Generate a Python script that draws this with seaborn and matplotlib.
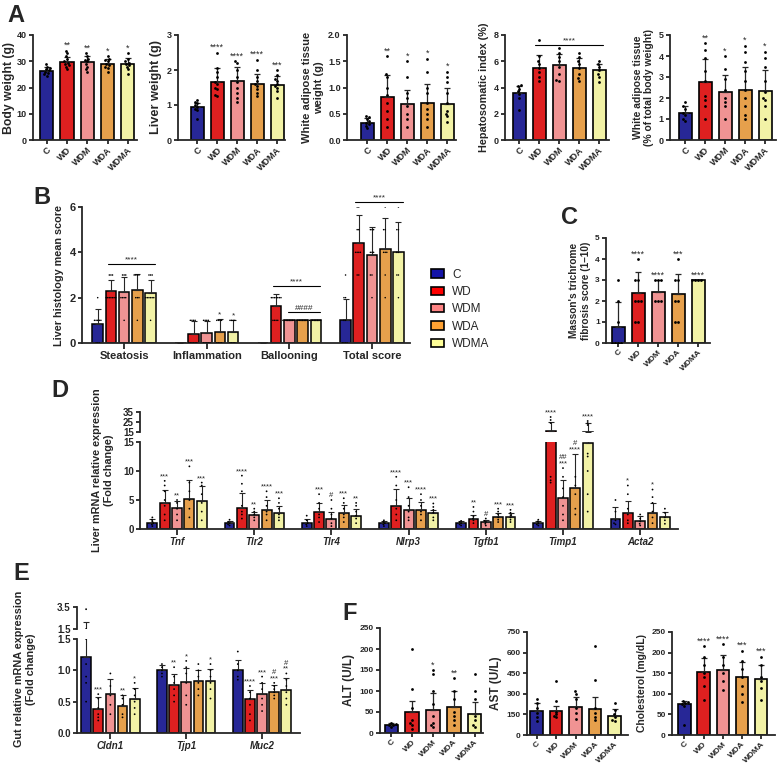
import warnings
import numpy as np
import pandas as pd
import seaborn as sns
import matplotlib.pyplot as plt
from matplotlib.patches import Patch

warnings.filterwarnings("ignore")

groups = ['C', 'WD', 'WDM', 'WDA', 'WDMA']
colors = ['#1414A8', '#FF0000', '#FF8484', '#FFA233', '#FFFF99']
nan = np.nan

# ---- panel A ----
bw_mean = [26.3, 29.6, 29.6, 29.0, 29.0]
bw_sd = [1.5, 2.0, 2.5, 2.0, 2.2]
bw_pts = [[24.5, 25.5, 26, 26.5, 27, 27.5, 28, 29, 25],
          [27, 28, 29, 29.5, 30, 31, 32, 33, 34, 28.5],
          [26, 27, 29, 30, 31, 32, 33, 28, 30.5],
          [26, 27.5, 28.5, 29, 30, 30.5, 31, 32, 28],
          [25, 27, 28, 29, 29.5, 30, 31, 33, 28.5]]
bw_stars = ['', '**', '**', '*', '*']

lw_mean = [0.95, 1.65, 1.7, 1.6, 1.57]
lw_sd = [0.12, 0.4, 0.38, 0.28, 0.25]
lw_pts = [[0.6, 0.85, 0.9, 0.95, 1.0, 1.05, 1.1, 1.15],
          [1.25, 1.3, 1.45, 1.6, 1.65, 1.8, 1.95, 2.05, 2.5, 1.5],
          [1.1, 1.2, 1.35, 1.65, 1.8, 2.0, 2.2, 2.25, 1.5],
          [1.25, 1.35, 1.45, 1.55, 1.6, 1.7, 1.8, 2.0, 2.3],
          [1.2, 1.4, 1.5, 1.55, 1.6, 1.7, 1.75, 1.85, 2.0]]
lw_stars = ['', '****', '****', '****', '***']

wat_mean = [0.33, 0.82, 0.68, 0.70, 0.68]
wat_sd = [0.08, 0.42, 0.28, 0.36, 0.32]
wat_pts = [[0.22, 0.27, 0.3, 0.33, 0.36, 0.4, 0.44, 0.46],
           [0.25, 0.4, 0.55, 0.7, 0.85, 1.0, 1.2, 1.25, 1.6],
           [0.25, 0.4, 0.5, 0.65, 0.8, 0.9, 1.2, 1.5],
           [0.25, 0.4, 0.5, 0.6, 0.7, 0.9, 1.0, 1.3, 1.55],
           [0.35, 0.45, 0.5, 0.55, 0.7, 0.9, 1.1, 1.2, 1.3]]
wat_stars = ['', '**', '*', '*', '*']

hsi_mean = [3.6, 5.5, 5.7, 5.5, 5.35]
hsi_sd = [0.5, 0.95, 0.85, 0.75, 0.45]
hsi_pts = [[2.3, 3.2, 3.5, 3.7, 3.9, 4.1, 4.2],
           [4.5, 4.8, 5.2, 5.5, 5.8, 6.0, 6.4, 7.6],
           [4.5, 4.6, 5.0, 5.6, 6.0, 6.3, 6.6, 7.0],
           [4.5, 4.7, 5.0, 5.5, 5.8, 6.0, 6.3, 6.6],
           [4.4, 4.8, 5.0, 5.3, 5.6, 5.8, 6.0]]
hsi_stars = ['', '', '', '', '']

watp_mean = [1.27, 2.75, 2.3, 2.38, 2.35]
watp_sd = [0.35, 1.1, 0.8, 1.1, 1.0]
watp_pts = [[0.9, 1.0, 1.2, 1.3, 1.5, 1.6, 1.8],
            [1.0, 1.6, 1.9, 2.1, 2.8, 3.3, 3.9, 4.3, 4.6],
            [1.0, 1.6, 1.8, 2.0, 2.4, 2.9, 3.4, 4.0],
            [1.0, 1.2, 1.6, 2.0, 2.4, 2.8, 3.3, 3.7, 4.2, 4.5],
            [1.0, 1.6, 1.9, 2.0, 2.3, 2.8, 3.5, 3.9, 4.2]]
watp_stars = ['', '**', '*', '*', '*']

# ---- panel B ----
b_cats = ['Steatosis', 'Inflammation', 'Ballooning', 'Total score']
b_mean = [[0.85, 2.3, 2.25, 2.35, 2.2],
          [0.0, 0.4, 0.45, 0.5, 0.48],
          [0.0, 1.65, 1.0, 1.0, 1.0],
          [1.0, 4.4, 3.9, 4.15, 4.0]]
b_sd = [[0.65, 0.5, 0.65, 0.7, 0.6],
        [nan, 0.55, 0.53, 0.55, 0.52],
        [nan, 0.5, 0.0, 0.0, 0.0],
        [0.93, 1.25, 1.22, 1.35, 1.33]]
b_pts = [[[0, 0, 0, 1, 1, 1, 1, 1, 2], [2, 2, 2, 2, 2, 3, 3, 3, 2, 2],
          [1, 2, 2, 2, 2, 3, 3, 3], [1, 2, 2, 2, 3, 3, 3, 3], [1, 2, 2, 2, 2, 3, 3, 3, 2, 2]],
         [[], [0, 0, 0, 1, 1, 0, 0, 1, 1, 0], [0, 0, 0, 1, 1, 1, 0, 1, 0],
          [0, 1, 0, 1, 0, 1, 0, 1], [0, 1, 0, 1, 1, 0, 0, 1]],
         [[], [1, 1, 1, 2, 2, 2, 2, 2, 1, 2, 2], [1] * 8, [1] * 8, [1] * 8],
         [[0, 0, 0, 0, 1, 1, 2, 3, 2], [3, 3, 4, 4, 4, 5, 5, 6, 6, 4],
          [2, 3, 3, 4, 4, 4, 5, 5, 5], [2, 3, 4, 4, 4, 5, 5, 6], [2, 3, 3, 4, 4, 5, 5, 6]]]
b_stars = [['', '', '', '', ''], ['', '', '', '*', '*'], ['', '', '', '', ''], ['', '', '', '', '']]

# ---- panel C ----
c_mean = [0.75, 2.4, 2.45, 2.35, 3.0]
c_sd = [1.18, 1.0, 0.55, 0.95, 0.0]
c_pts = [[0, 0, 0, 0, 1, 2, 3], [1, 1, 2, 2, 2, 3, 3, 4], [2, 2, 2, 3, 3, 3],
         [1, 1, 2, 2, 3, 3, 4], [3, 3, 3, 3]]
c_stars = ['', '****', '****', '***', '****']

# ---- panel D ----
d_genes = ['Tnf', 'Tlr2', 'Tlr4', 'Nlrp3', 'Tgfb1', 'Timp1', 'Acta2']
d_mean = [[1.1, 4.4, 3.6, 5.2, 4.8], [1.0, 3.6, 2.4, 3.3, 2.8], [1.1, 2.9, 1.8, 2.7, 2.3],
          [1.0, 3.9, 3.2, 3.3, 2.8], [1.0, 1.8, 1.2, 2.0, 2.0], [1.0, 15.6, 5.4, 7.1, 14.8],
          [1.8, 2.7, 1.4, 2.8, 2.0]]
d_sd = [[0.7, 2.4, 1.3, 3.3, 2.6], [0.4, 2.6, 0.6, 1.7, 1.2], [0.7, 1.6, 1.2, 1.5, 1.1],
        [0.4, 3.0, 2.2, 1.3, 0.5], [0.4, 0.6, 0.4, 0.8, 0.7], [0.4, 9.0, 3.0, 5.9, 9.5],
        [2.0, 2.1, 0.9, 1.7, 0.9]]
d_pts = [[[0.5, 0.8, 1.0, 1.3, 1.6, 2.0], [1.5, 2.5, 4.0, 5.0, 6.5, 7.5, 8.3], [1.5, 2.5, 3.5, 4.5, 5.0],
          [2.0, 3.5, 5.0, 6.5, 8.0, 10.8], [1.5, 3.0, 4.5, 6.0, 7.5, 8.0]],
         [[0.6, 0.8, 1.0, 1.2, 1.6], [1.8, 2.5, 3.0, 4.0, 6.5, 7.8, 9.2], [1.5, 2.0, 2.5, 3.0, 3.5],
          [1.5, 2.5, 3.0, 4.0, 5.5, 6.5], [1.5, 2.0, 2.5, 3.5, 4.5, 5.3]],
         [[0.5, 0.8, 1.0, 1.5, 2.3], [1.2, 2.0, 2.5, 3.5, 4.5, 6.0], [0.5, 1.0, 1.8, 2.5, 3.5, 5.0],
          [1.2, 2.0, 2.5, 3.5, 4.5, 5.3], [1.0, 1.8, 2.3, 3.0, 4.0, 4.5]],
         [[0.5, 0.8, 1.0, 1.2, 1.5], [1.5, 2.5, 3.5, 5.0, 7.5, 9.0], [1.5, 2.0, 3.0, 4.0, 5.5, 7.2],
          [1.5, 2.5, 3.0, 4.0, 5.0, 6.0], [1.5, 2.0, 2.8, 3.3, 3.8, 4.4]],
         [[0.6, 0.8, 1.0, 1.2, 1.4], [1.0, 1.5, 1.8, 2.2, 3.0, 3.8], [0.6, 0.9, 1.2, 1.4, 1.8],
          [1.2, 1.6, 2.0, 2.5, 3.0, 3.5], [1.2, 1.6, 2.0, 2.4, 2.8, 3.3]],
         [[0.6, 0.8, 1.0, 1.3, 1.6], [8.0, 8.4, 9.0, 24, 27, 30], [1.5, 2.5, 4.0, 5.5, 7.0, 9.0, 10.5],
          [2.5, 3.5, 6.0, 7.5, 9.0], [3.0, 6.0, 10.0, 12.5, 13.0, 22, 24, 26]],
         [[0.8, 1.0, 1.5, 3.0, 5.0], [1.0, 1.5, 2.5, 3.5, 6.0, 7.5], [0.6, 0.9, 1.3, 1.8, 2.5],
          [1.0, 2.0, 3.0, 4.5, 5.5, 6.8], [0.9, 1.5, 2.0, 2.8, 3.5]]]
d_stars = [['', '***', '**', '***', '***'], ['', '****', '**', '****', '***'],
           ['', '***', '#', '***', '**'], ['', '****', '***', '****', '***'],
           ['', '**', '#', '***', '***'], ['', '****', '##\n***', '#\n****', '****'],
           ['', '*', '', '*', '']]

# ---- panel E ----
e_genes = ['Cldn1', 'Tjp1', 'Muc2']
e_mean = [[1.22, 0.38, 0.62, 0.43, 0.55], [1.0, 0.76, 0.81, 0.83, 0.83], [1.0, 0.54, 0.62, 0.65, 0.69]]
e_sd = [[0.92, 0.19, 0.24, 0.17, 0.17], [0.08, 0.18, 0.23, 0.17, 0.19], [0.16, 0.15, 0.17, 0.11, 0.18]]
e_pts = [[[0.5, 0.8, 0.9, 1.1, 1.5, 3.3], [0.2, 0.25, 0.3, 0.4, 0.55, 0.62], [0.3, 0.45, 0.6, 0.75, 0.95],
          [0.25, 0.3, 0.45, 0.55, 0.6], [0.3, 0.4, 0.5, 0.6, 0.7, 0.8]],
         [[0.9, 0.95, 1.0, 1.05, 1.1], [0.5, 0.6, 0.7, 0.8, 0.9, 1.05], [0.45, 0.6, 0.8, 0.95, 1.05, 1.15],
          [0.6, 0.7, 0.8, 0.9, 1.0, 1.1], [0.55, 0.7, 0.8, 0.9, 1.0, 1.1]],
         [[0.85, 0.9, 1.0, 1.1, 1.3], [0.2, 0.3, 0.45, 0.55, 0.65, 0.75], [0.35, 0.45, 0.55, 0.7, 0.8, 0.9],
          [0.55, 0.6, 0.65, 0.7, 0.75, 0.8], [0.45, 0.55, 0.65, 0.75, 0.85, 0.95]]]
e_stars = [['', '***', '', '**', '*'], ['', '**', '*', '', '*'], ['', '****', '***', '#\n***', '#\n**']]

# ---- panel F ----
alt_mean = [18, 49, 54, 61, 45]
alt_sd = [5, 27, 42, 38, 30]
alt_pts = [[15, 18, 20, 22, 25], [10, 20, 25, 30, 60, 105, 200], [15, 20, 25, 40, 70, 100, 140, 150],
           [20, 30, 40, 50, 80, 100, 130], [15, 20, 30, 40, 80, 100, 140]]
alt_stars = ['', '', '*', '**', '']

ast_mean = [175, 172, 205, 192, 140]
ast_sd = [58, 42, 75, 85, 50]
ast_pts = [[100, 130, 160, 200, 230, 260], [130, 140, 150, 170, 250, 390], [120, 160, 200, 260, 300, 320],
           [110, 130, 160, 200, 400, 650], [100, 110, 130, 150, 180, 230]]
ast_stars = ['', '', '', '', '']

chol_mean = [75, 152, 158, 140, 137]
chol_sd = [8, 36, 35, 38, 32]
chol_pts = [[25, 70, 75, 78, 80, 83], [85, 120, 140, 150, 170, 190, 215], [110, 130, 150, 170, 190, 220],
            [80, 100, 120, 140, 160, 180, 205], [85, 115, 130, 140, 170, 190]]
chol_stars = ['', '****', '****', '***', '***']

# ---------------------------------------------------------------
sns.set_style('ticks')
plt.rcParams['font.family'] = ['Liberation Sans', 'DejaVu Sans']
plt.rcParams['font.weight'] = 'bold'
plt.rcParams['axes.labelweight'] = 'bold'

W, H = 781, 767
fig = plt.figure(figsize=(W / 100, H / 100), dpi=100)
ECOL = '#262626'


def add_ax(x0, y0, x1, y1):
    return fig.add_axes([x0 / W, 1 - y1 / H, (x1 - x0) / W, (y1 - y0) / H])


def style(ax, fs=7, lw=1.3):
    sns.despine(ax=ax)
    for s in ('left', 'bottom'):
        ax.spines[s].set_linewidth(lw)
    ax.tick_params(width=lw, length=3, labelsize=fs, pad=1.5)


def star(ax, x, y, s, fs):
    if s:
        ax.annotate(s, (x, y), xytext=(0, 0.5), textcoords='offset points', ha='center',
                    va='bottom', fontsize=fs, fontweight='normal', linespacing=0.8,
                    annotation_clip=False)


def sig_line(ax, x0, x1, y, s, fs=6):
    ax.plot([x0, x1], [y, y], color='black', lw=0.8, clip_on=False)
    ax.annotate(s, ((x0 + x1) / 2, y), xytext=(0, 0.5), textcoords='offset points',
                ha='center', va='bottom', fontsize=fs, fontweight='normal', annotation_clip=False)


def long_pts(pts):
    return pd.DataFrame([(g, v) for g, vals in zip(groups, pts) for v in vals],
                        columns=['group', 'value'])


def simple_panel(box, means, sds, pts, stars, ylim, yticks, ylabel, xlim,
                 lab_fs=8, star_fs=6.5, tick_fs=6.5, ytl=None, pad=3):
    ax = add_ax(*box)
    df = pd.DataFrame({'group': groups, 'value': means})
    sns.barplot(data=df, x='group', y='value', hue='group', order=groups, hue_order=groups,
                palette=colors, width=0.65, edgecolor='black', linewidth=1.2,
                errorbar=None, legend=False, ax=ax)
    x = np.arange(5)
    ax.errorbar(x, means, yerr=[np.zeros(5), sds], fmt='none', ecolor=ECOL,
                elinewidth=0.9, capsize=2.3, capthick=0.9, zorder=3)
    sns.swarmplot(data=long_pts(pts), x='group', y='value', order=groups, color='black',
                  size=2.0, ax=ax, zorder=4)
    for i in range(5):
        top = max(means[i] + sds[i], max(pts[i]))
        star(ax, i, top, stars[i], star_fs)
    ax.set_xlim(xlim)
    ax.set_ylim(ylim)
    ax.set_yticks(yticks)
    if ytl is not None:
        ax.set_yticklabels(ytl)
    ax.set_ylabel(ylabel, fontsize=lab_fs, labelpad=pad)
    ax.set_xlabel('')
    style(ax, tick_fs)
    ax.tick_params(axis='x', rotation=45, pad=1)
    for t in ax.get_xticklabels():
        t.set_ha('right')
        t.set_rotation_mode('anchor')
    return ax


def grouped_bars(ax, cats, means, sds, pts, ms=1.5):
    rows = [(c, g, means[i][j]) for i, c in enumerate(cats) for j, g in enumerate(groups)]
    df = pd.DataFrame(rows, columns=['cat', 'group', 'value'])
    sns.barplot(data=df, x='cat', y='value', hue='group', order=cats, hue_order=groups,
                palette=colors, width=0.8, gap=0.2, edgecolor='black', linewidth=1.1,
                errorbar=None, legend=False, ax=ax)
    xs = [i + (j - 2) * 0.16 for i in range(len(cats)) for j in range(5)]
    ax.errorbar(xs, df['value'], yerr=[np.zeros(len(xs)), np.ravel(sds)], fmt='none',
                ecolor=ECOL, elinewidth=0.8, capsize=2, capthick=0.8, zorder=3)
    prow = [(c, g, v) for i, c in enumerate(cats) for j, g in enumerate(groups) for v in pts[i][j]]
    pdf = pd.DataFrame(prow, columns=['cat', 'group', 'value'])
    sns.swarmplot(data=pdf, x='cat', y='value', hue='group', order=cats, hue_order=groups,
                  palette=['black'] * 5, dodge=True, size=ms, legend=False, ax=ax, zorder=4)
    return xs


def bar_top(m, s, p):
    t = m + (0 if np.isnan(s) else s)
    return max([t] + list(p))


# ---------------- A ----------------
simple_panel((33, 35, 137, 140), bw_mean, bw_sd, bw_pts, bw_stars, (0, 40), [0, 10, 20, 30, 40],
             'Body weight (g)', (-0.675, 4.45), lab_fs=8.8, pad=1.5)
simple_panel((178, 35, 285, 140), lw_mean, lw_sd, lw_pts, lw_stars, (0, 3), [0, 1, 2, 3],
             'Liver weight (g)', (-0.975, 4.4), lab_fs=9.2)
simple_panel((347, 35, 456, 140), wat_mean, wat_sd, wat_pts, wat_stars, (0, 2), [0, 0.5, 1, 1.5, 2],
             'White adipose tissue\nweight (g)', (-1.0, 4.43), lab_fs=8,
             ytl=['0.0', '0.5', '1.0', '1.5', '2.0'])
ax_hsi = simple_panel((505, 35, 609, 140), hsi_mean, hsi_sd, hsi_pts, hsi_stars, (0, 8), [0, 2, 4, 6, 8],
                      'Hepatosomatic index (%)', (-0.7, 4.5), lab_fs=7.8)
sig_line(ax_hsi, 0.8, 4.2, 7.25, '****', 6)
simple_panel((670, 35, 776, 140), watp_mean, watp_sd, watp_pts, watp_stars, (0, 5), [0, 1, 2, 3, 4, 5],
             'White adipose tissue\n(% of total body weight)', (-0.75, 4.55), lab_fs=7.5)

# ---------------- B ----------------
axb = add_ax(82, 207, 410, 343)
xs = grouped_bars(axb, b_cats, b_mean, b_sd, b_pts, ms=1.1)
for i in range(4):
    for j in range(5):
        star(axb, xs[i * 5 + j], bar_top(b_mean[i][j], b_sd[i][j], b_pts[i][j]), b_stars[i][j], 6)
sig_line(axb, -0.2, 0.37, 3.5, '****', 6)
sig_line(axb, 1.8, 2.37, 2.5, '****', 6)
sig_line(axb, 1.98, 2.37, 1.35, '####', 6)
sig_line(axb, 2.8, 3.37, 6.2, '****', 6)
axb.set_xlim(-0.51, 3.46)
axb.set_ylim(0, 6)
axb.set_yticks([0, 2, 4, 6])
axb.set_xlabel('')
axb.set_ylabel('Liver histology mean score', fontsize=7.8, labelpad=4)
style(axb, 8)
axb.tick_params(axis='x', length=4, labelsize=8)
handles = [Patch(facecolor=c, edgecolor='black', linewidth=1.2, label=g) for g, c in zip(groups, colors)]
fig.legend(handles=handles, loc='upper left', bbox_to_anchor=(426 / W, 1 - 264 / H), frameon=False,
           prop={'size': 8.5, 'weight': 'normal'}, handlelength=1.1, handleheight=0.7,
           labelspacing=0.45, handletextpad=0.7, borderaxespad=0)

# ---------------- C ----------------
simple_panel((606, 238, 710, 343), c_mean, c_sd, c_pts, c_stars, (0, 5), [0, 1, 2, 3, 4, 5],
             "Masson's trichrome\nfibrosis score (1\u201310)", (-0.6, 4.6), lab_fs=7.3, tick_fs=6)

# ---------------- D ----------------
axd = add_ax(140, 442, 678, 529)
axd_up = add_ax(140, 412, 678, 432)
for ax in (axd, axd_up):
    xs = grouped_bars(ax, d_genes, d_mean, d_sd, d_pts, ms=1.3)
    ax.set_xlim(-0.48, 6.49)
    ax.set_xlabel('')
    ax.set_ylabel('')
axd.set_ylim(0, 15)
axd.set_yticks([0, 5, 10, 15])
axd_up.set_ylim(15, 35)
axd_up.set_yticks([15, 25, 35])
style(axd, 7)
style(axd_up, 7)
axd.tick_params(axis='x', length=4)
for t in axd.get_xticklabels():
    t.set_fontstyle('italic')
axd_up.spines['bottom'].set_visible(False)
axd_up.set_xticks([])
for i in range(7):
    for j in range(5):
        top = bar_top(d_mean[i][j], d_sd[i][j], d_pts[i][j])
        star(axd_up if top > 15 else axd, xs[i * 5 + j], top, d_stars[i][j], 5.5)
fig.text(103 / W, 1 - 470 / H, 'Liver mRNA relative expression\n(Fold change)', rotation=90,
         ha='center', va='center', fontsize=7.8, linespacing=1.2)

# ---------------- E ----------------
axe = add_ax(77, 639, 300, 733)
axe_up = add_ax(77, 607, 300, 629)
for ax in (axe, axe_up):
    xs = grouped_bars(ax, e_genes, e_mean, e_sd, e_pts, ms=1.3)
    ax.set_xlim(-0.44, 2.5)
    ax.set_xlabel('')
    ax.set_ylabel('')
axe.set_ylim(0, 1.5)
axe.set_yticks([0, 0.5, 1.0, 1.5])
axe.set_yticklabels(['0.0', '0.5', '1.0', '1.5'])
axe_up.set_ylim(1.5, 3.5)
axe_up.set_yticks([1.5, 3.5])
axe_up.set_yticklabels(['1.5', '3.5'])
style(axe, 7)
style(axe_up, 7)
axe.tick_params(axis='x', length=4)
for t in axe.get_xticklabels():
    t.set_fontstyle('italic')
axe_up.spines['bottom'].set_visible(False)
axe_up.set_xticks([])
for i in range(3):
    for j in range(5):
        top = bar_top(e_mean[i][j], e_sd[i][j], e_pts[i][j])
        if top < 1.5:
            star(axe, xs[i * 5 + j], top, e_stars[i][j], 5.5)
fig.text(25 / W, 1 - 669 / H, 'Gut relative mRNA expression\n(Fold change)', rotation=90,
         ha='center', va='center', fontsize=7.8, linespacing=1.2)

# ---------------- F ----------------
simple_panel((380, 628, 483, 733), alt_mean, alt_sd, alt_pts, alt_stars, (0, 250), [0, 50, 100, 150, 200, 250],
             'ALT (U/L)', (-0.55, 4.4), lab_fs=8.5, tick_fs=6)
simple_panel((527, 632, 628, 735), ast_mean, ast_sd, ast_pts, ast_stars, (0, 750), [0, 150, 300, 450, 600, 750],
             'AST (U/L)', (-0.49, 4.69), lab_fs=8.5, tick_fs=6)
simple_panel((672, 632, 775, 735), chol_mean, chol_sd, chol_pts, chol_stars, (0, 250), [0, 50, 100, 150, 200, 250],
             'Cholesterol (mg/dL)', (-0.65, 4.73), lab_fs=7.5, tick_fs=6)

# panel letters
for lab, x, y in [('A', 7, 4), ('B', 33, 186), ('C', 561, 206), ('D', 51, 379), ('E', 13, 562), ('F', 342, 602)]:
    fig.text(x / W, 1 - y / H, lab, fontsize=17, fontweight='bold', ha='left', va='top')

fig.savefig('out.png', dpi=100)
